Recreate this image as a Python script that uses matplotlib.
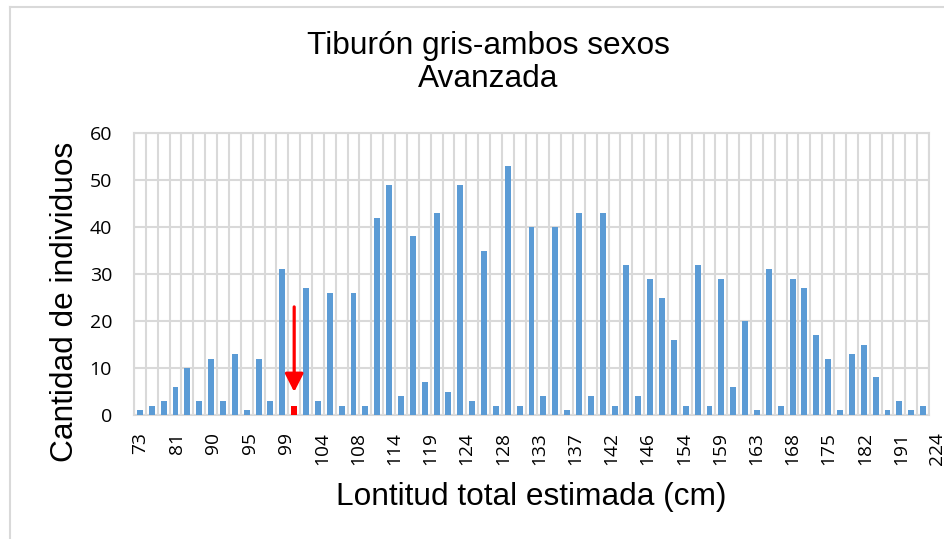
import matplotlib
matplotlib.use("Agg")
import matplotlib.pyplot as plt
from matplotlib.lines import Line2D
from matplotlib.transforms import blended_transform_factory, offset_copy
import numpy as np

# Length classes (cm) and number of individuals per class
lengths = [73, 75, 78, 81, 84, 87, 90, 92, 94, 95, 96, 98, 99, 101, 102,
           104, 105, 107, 108, 110, 112, 114, 116, 117, 119, 121, 122,
           124, 125, 127, 128, 130, 131, 133, 134, 135, 137, 139, 140,
           142, 143, 145, 146, 149, 152, 154, 156, 157, 159, 160, 162,
           163, 165, 166, 168, 170, 173, 175, 177, 180, 182, 185, 188,
           191, 195, 205, 224]
counts = [1, 2, 3, 6, 10, 3, 12, 3, 13, 1, 12, 3, 31, 2, 27, 3, 26, 2, 26, 2,
          42, 49, 4, 38, 7, 43, 5, 49, 3, 35, 2, 53, 2, 40, 4, 40, 1, 43, 4,
          43, 2, 32, 4, 29, 25, 16, 2, 32, 2, 29, 6, 20, 1, 31, 2, 29, 27, 17,
          12, 1, 13, 15, 8, 1, 3, 1, 2]
highlight_length = 101          # class marked with the arrow
arrow_from, arrow_to = 23, 4.9  # arrow extent in counts

title_lines = ["Tiburón gris-ambos sexos", "Avanzada"]
xlabel = "Lontitud total estimada (cm)"
ylabel = "Cantidad de individuos"

BLUE = "#5B9BD5"
RED = "#FF0000"
GRID = "#D9D9D9"
W, H = 945, 539

fig = plt.figure(figsize=(W / 100, H / 100), dpi=100)
ax = fig.add_axes([134 / W, 1 - 415 / H, (929 - 134) / W, (415 - 133) / H])

x = np.arange(len(lengths))
hi = lengths.index(highlight_length)
colors = [RED if i == hi else BLUE for i in x]
ax.bar(x, counts, width=0.5, color=colors, zorder=3)

ax.set_xlim(-0.5, len(lengths) - 0.5)
ax.set_ylim(0, 60)
ax.set_yticks(range(0, 61, 10))
for lab in ax.get_yticklabels():
    lab.set_fontsize(14)
    lab.set_family("Open Sans")
ax.tick_params(axis="y", length=0, pad=15.8)

# category labels, every third class, written under the axis
ax.set_xticks([])
base = blended_transform_factory(ax.transData, ax.transAxes)
for k, i in enumerate(x[::3]):
    tr = offset_copy(base, fig=fig, x=0.6 * k + (1 if k else 0), y=-17,
                     units="dots")
    ax.text(i, 0, str(lengths[i]), transform=tr, rotation=90, ha="center",
            va="top", fontsize=13.8, family="Open Sans", clip_on=False)

# grid: vertical lines on class boundaries, horizontal on major ticks
ax.set_xticks(np.arange(-0.5, len(lengths), 1), minor=True)
ax.tick_params(axis="x", which="minor", length=0)
ax.grid(axis="x", which="minor", color=GRID, lw=1.5, zorder=0)
ax.grid(axis="y", which="major", color=GRID, lw=1.5, zorder=0)
for s in ax.spines.values():
    s.set_color(GRID)
    s.set_linewidth(1.5)

ax.annotate("", xy=(hi, arrow_to), xytext=(hi, arrow_from),
            arrowprops=dict(arrowstyle="-|>,head_length=0.55,head_width=0.28",
                            mutation_scale=20, lw=2.3, color=RED,
                            shrinkA=0, shrinkB=0), zorder=5)

fig.text(488 / W, 1 - 54 / H, title_lines[0], ha="center", va="baseline",
         fontsize=22.8, family="Liberation Sans")
fig.text(488 / W, 1 - 87 / H, title_lines[1], ha="center", va="baseline",
         fontsize=22.8, family="Liberation Sans")
fig.text(531 / W, 1 - 505 / H, xlabel, ha="center", va="baseline",
         fontsize=22.8, family="Liberation Sans")
fig.text(73 / W, 1 - 302 / H, ylabel, ha="center", va="baseline",
         rotation=90, rotation_mode="anchor", fontsize=22.8,
         family="Liberation Sans")

# chart area border
fig.add_artist(Line2D([10 / W, 1.0], [1 - 7 / H] * 2, color=GRID, lw=1.5,
                      transform=fig.transFigure))
fig.add_artist(Line2D([10 / W] * 2, [0.0, 1 - 7 / H], color=GRID, lw=1.5,
                      transform=fig.transFigure))

fig.savefig("out.png", dpi=100)
